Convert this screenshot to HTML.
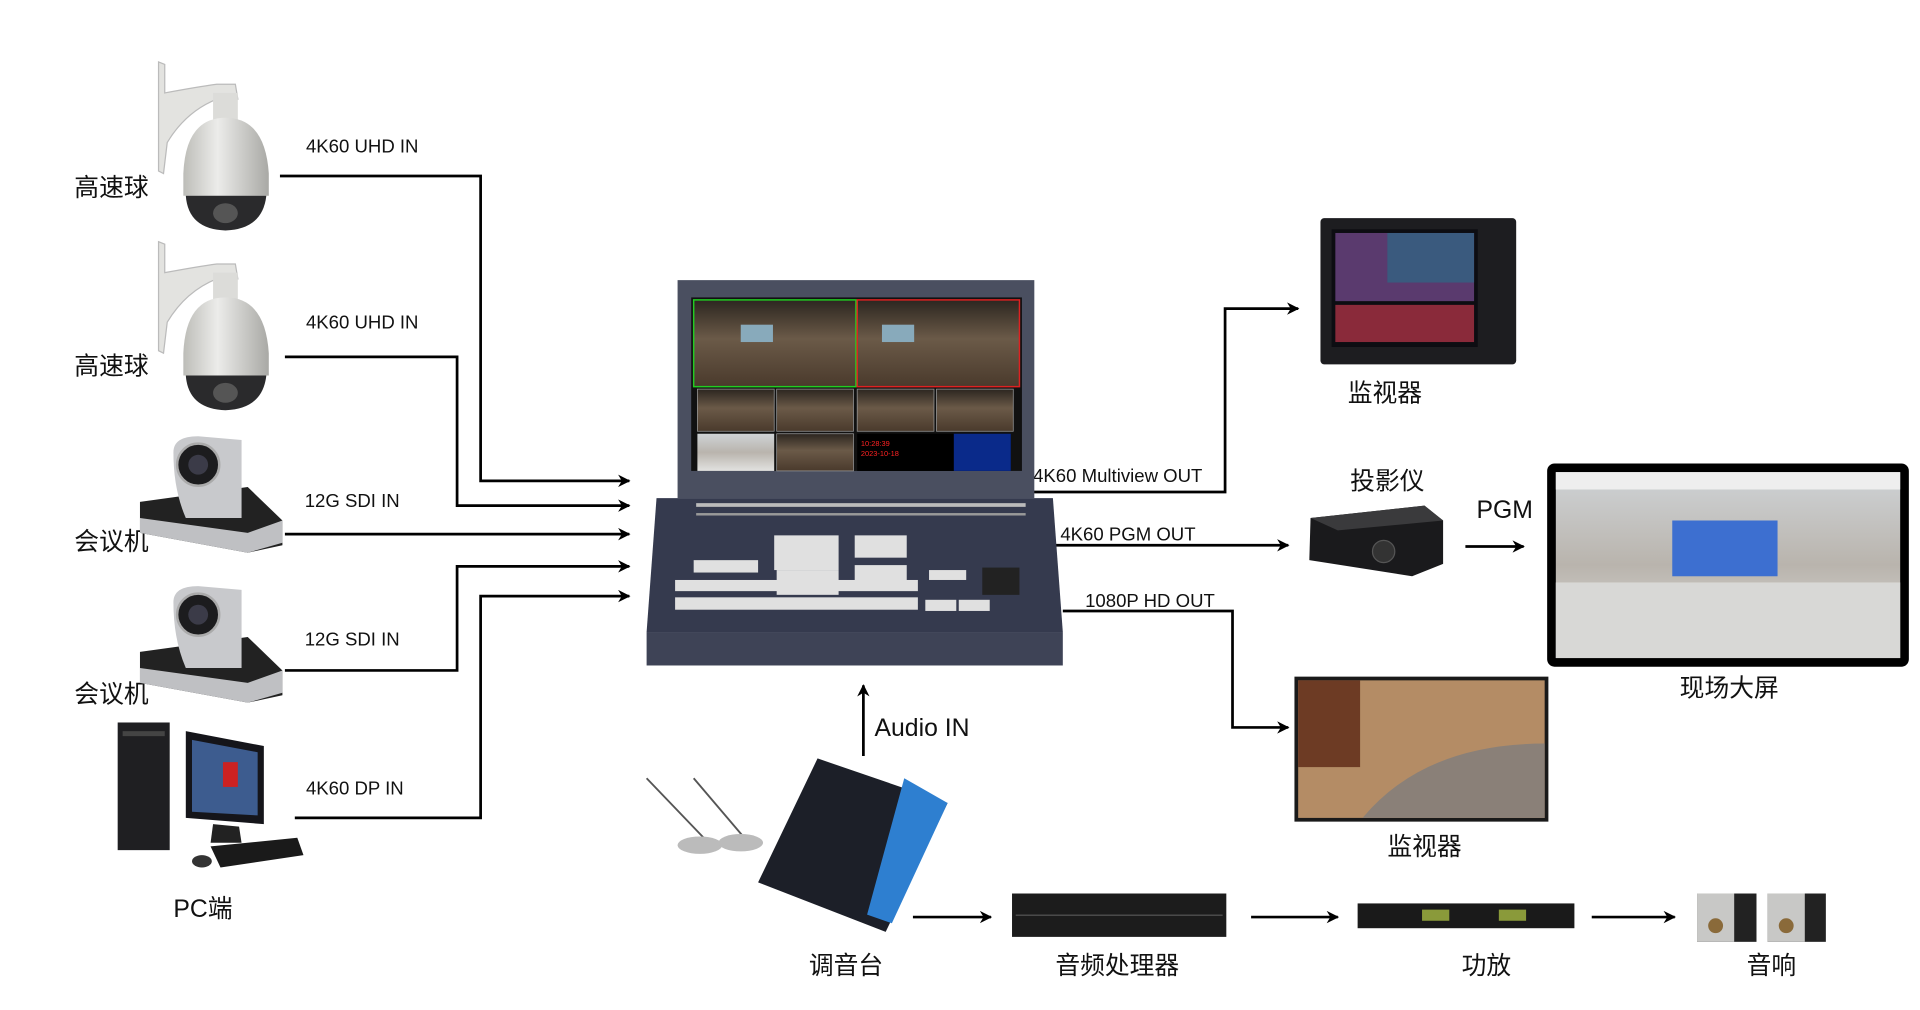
<!DOCTYPE html>
<html><head><meta charset="utf-8"><style>
html,body{margin:0;padding:0;background:#fff;width:1920px;height:1010px;overflow:hidden}
svg{display:block}
text{font-family:"Liberation Sans","Noto Sans CJK SC",sans-serif;fill:#111}
</style></head><body>
<svg width="1920" height="1010" viewBox="0 0 1550 815" preserveAspectRatio="none" xmlns="http://www.w3.org/2000/svg">
<defs>
<marker id="a" markerWidth="10" markerHeight="10" refX="9" refY="5" orient="auto" markerUnits="userSpaceOnUse"><path d="M0,0 L10,5 L0,10 L3,5 Z" fill="#000"/></marker>
<linearGradient id="dome" x1="0" x2="1"><stop offset="0" stop-color="#bdbdb8"/><stop offset=".4" stop-color="#ececea"/><stop offset="1" stop-color="#a9a9a5"/></linearGradient>
<linearGradient id="room" x1="0" y1="0" x2="0" y2="1"><stop offset="0" stop-color="#2c2620"/><stop offset=".45" stop-color="#6b5a48"/><stop offset="1" stop-color="#4a3a2c"/></linearGradient>
<linearGradient id="hall" x1="0" y1="0" x2="0" y2="1"><stop offset="0" stop-color="#cfd3d6"/><stop offset=".5" stop-color="#b9b4ad"/><stop offset="1" stop-color="#e2e2e0"/></linearGradient>
</defs>
<g fill="none" stroke="#000" stroke-width="2.2">
<polyline points="226,142 388,142 388,388 508,388" marker-end="url(#a)"/>
<polyline points="230,288 369,288 369,408 508,408" marker-end="url(#a)"/>
<polyline points="230,431 508,431" marker-end="url(#a)"/>
<polyline points="230,541 369,541 369,457 508,457" marker-end="url(#a)"/>
<polyline points="238,660 388,660 388,481 508,481" marker-end="url(#a)"/>
<polyline points="832,397 989,397 989,249 1048,249" marker-end="url(#a)"/>
<polyline points="843,440 1040,440" marker-end="url(#a)"/>
<polyline points="858,493 995,493 995,587 1040,587" marker-end="url(#a)"/>
<polyline points="1183,441 1230,441" marker-end="url(#a)"/>
<polyline points="697,610 697,553" marker-end="url(#a)"/>
<polyline points="737,740 800,740" marker-end="url(#a)"/>
<polyline points="1010,740 1080,740" marker-end="url(#a)"/>
<polyline points="1285,740 1352,740" marker-end="url(#a)"/>
</g>
<g font-size="15">
<text x="247" y="123">4K60 UHD IN</text>
<text x="247" y="265">4K60 UHD IN</text>
<text x="246" y="409">12G SDI IN</text>
<text x="246" y="521">12G SDI IN</text>
<text x="247" y="641">4K60 DP IN</text>
<text x="834" y="389">4K60 Multiview OUT</text>
<text x="856" y="436">4K60 PGM OUT</text>
<text x="876" y="490">1080P HD OUT</text>
</g>
<g font-size="20">
<text x="60" y="158">高速球</text>
<text x="60" y="302">高速球</text>
<text x="60" y="444">会议机</text>
<text x="60" y="567">会议机</text>
<text x="140" y="740">PC端</text>
<text x="706" y="594">Audio IN</text>
<text x="1192" y="418">PGM</text>
<text x="1088" y="324">监视器</text>
<text x="1090" y="395">投影仪</text>
<text x="1356" y="562">现场大屏</text>
<text x="1120" y="690">监视器</text>
<text x="653" y="786">调音台</text>
<text x="852" y="786">音频处理器</text>
<text x="1180" y="786">功放</text>
<text x="1410" y="786">音响</text>
</g>
<!-- dome cameras -->
<g id="dome1">
<path d="M128,50 L133,52 L133,75 Q160,70 175,68 L190,68 L192,80 L175,80 Q150,90 135,115 L132,140 L128,138 Z" fill="#e3e3e0" stroke="#bbb"/>
<rect x="172" y="75" width="20" height="22" fill="#dcdcd9"/>
<path d="M148,140 Q150,95 182,95 Q214,95 217,140 L217,158 L148,158 Z" fill="url(#dome)"/>
<path d="M150,158 L215,158 Q212,185 182,186 Q152,185 150,158 Z" fill="#2a2a2c"/>
<ellipse cx="182" cy="172" rx="10" ry="8" fill="#555"/>
</g>
<use href="#dome1" transform="translate(0,145)"/>
<!-- PTZ cameras -->
<g id="ptz">
<path d="M113,405 L200,393 L228,420 L228,440 L200,446 L113,430 Z" fill="#222"/>
<path d="M113,418 L200,430 L228,420 L228,438 L200,446 L113,430 Z" fill="#bfc0c3"/>
<path d="M140,365 Q140,352 160,352 L195,355 L195,418 L150,418 Q140,395 140,365 Z" fill="#c8c9cc"/>
<circle cx="160" cy="375" r="17" fill="#1c1c1e" stroke="#aaa" stroke-width="2"/>
<circle cx="160" cy="375" r="8" fill="#3b3b48"/>
</g>
<use href="#ptz" transform="translate(0,121)"/>
<!-- PC -->
<rect x="95" y="583" width="42" height="103" fill="#1f1f22"/>
<rect x="99" y="590" width="34" height="4" fill="#444"/>
<path d="M150,590 L213,602 L213,665 L150,660 Z" fill="#15151a"/>
<path d="M155,597 L208,607 L208,658 L155,655 Z" fill="#3d5c8f"/>
<rect x="180" y="615" width="12" height="20" fill="#c22"/>
<path d="M172,665 L193,667 L195,680 L170,680 Z" fill="#222"/>
<path d="M170,683 L240,676 L245,690 L178,700 Z" fill="#1a1a1a"/>
<ellipse cx="163" cy="695" rx="8" ry="5" fill="#333"/>
<!-- switcher -->
<path d="M547,226 L835,226 L835,402 L547,402 Z" fill="#4a4f60"/>
<rect x="558" y="240" width="267" height="140" fill="#111"/>
<rect x="560" y="242" width="131" height="70" fill="url(#room)" stroke="#2c2" stroke-width="1.2"/>
<rect x="692" y="242" width="131" height="70" fill="url(#room)" stroke="#d22" stroke-width="1.2"/>
<rect x="598" y="262" width="26" height="14" fill="#8ab"/>
<rect x="712" y="262" width="26" height="14" fill="#8ab"/>
<g fill="url(#room)" stroke="#999" stroke-width=".6">
<rect x="563" y="314" width="62" height="34"/><rect x="627" y="314" width="62" height="34"/>
<rect x="692" y="314" width="62" height="34"/><rect x="756" y="314" width="62" height="34"/>
<rect x="627" y="350" width="62" height="30"/>
</g>
<rect x="563" y="350" width="62" height="30" fill="url(#hall)"/>
<rect x="692" y="350" width="124" height="30" fill="#000"/>
<rect x="770" y="350" width="46" height="30" fill="#0a2a8a"/>
<text x="695" y="360" font-size="6" style="fill:#f22">10:28:39</text>
<text x="695" y="368" font-size="6" style="fill:#f22">2023-10-18</text>
<path d="M530,402 L850,402 L858,510 L522,510 Z" fill="#353a4e"/>
<rect x="562" y="406" width="266" height="3" fill="#bbb"/>
<rect x="562" y="414" width="266" height="2" fill="#999"/>
<rect x="522" y="510" width="336" height="27" fill="#3e4356"/>
<g fill="#e0e0e0">
<rect x="625" y="432" width="52" height="28"/><rect x="690" y="432" width="42" height="18"/>
<rect x="560" y="452" width="52" height="10"/><rect x="627" y="460" width="50" height="20"/>
<rect x="690" y="456" width="42" height="20"/><rect x="750" y="460" width="30" height="8"/>
<rect x="545" y="468" width="196" height="9"/><rect x="545" y="482" width="196" height="10"/>
<rect x="747" y="484" width="25" height="9"/><rect x="774" y="484" width="25" height="9"/>
</g>
<rect x="793" y="458" width="30" height="22" fill="#222"/>
<!-- top monitor -->
<rect x="1066" y="176" width="158" height="118" fill="#1d1d20" rx="3"/>
<rect x="1075" y="185" width="118" height="95" fill="#0d0d12"/>
<rect x="1078" y="188" width="112" height="55" fill="#5a3a6e"/>
<rect x="1120" y="188" width="70" height="40" fill="#3a5a7e"/>
<rect x="1078" y="246" width="112" height="30" fill="#8a2a3a"/>
<!-- projector -->
<path d="M1058,418 L1150,408 L1165,420 L1165,455 L1140,465 L1057,452 Z" fill="#1a1a1c"/>
<path d="M1058,418 L1150,408 L1165,420 L1080,428 Z" fill="#3a3a3c"/>
<circle cx="1117" cy="445" r="9" fill="#333" stroke="#555"/>
<!-- big screen -->
<rect x="1249" y="374" width="292" height="164" rx="6" fill="#000"/>
<rect x="1256" y="381" width="278" height="150" fill="url(#hall)"/>
<rect x="1350" y="420" width="85" height="45" fill="#3d6fd0"/>
<rect x="1256" y="470" width="278" height="61" fill="#d8d8d6"/>
<path d="M1256,381 L1534,381 L1534,395 L1256,395 Z" fill="#eee"/>
<!-- TV -->
<rect x="1045" y="546" width="205" height="117" fill="#1a1a1a"/>
<rect x="1048" y="549" width="199" height="111" fill="#b48c65"/>
<rect x="1048" y="549" width="50" height="70" fill="#6d3b24"/>
<path d="M1048,660 L1247,660 L1247,600 Q1150,600 1100,660 Z" fill="#8a8078"/>
<!-- mics -->
<path d="M522,628 L570,678" stroke="#555" stroke-width="1.5"/><path d="M560,628 L600,675" stroke="#555" stroke-width="1.5"/>
<ellipse cx="565" cy="682" rx="18" ry="7" fill="#bbb"/><ellipse cx="598" cy="680" rx="18" ry="7" fill="#bbb"/>
<!-- mixer -->
<path d="M660,612 L765,648 L715,752 L612,712 Z" fill="#1c1f28"/>
<path d="M730,628 L765,648 L720,745 L700,738 Z" fill="#2e7fd0"/>
<!-- processor -->
<rect x="817" y="721" width="173" height="35" fill="#1c1c1c"/>
<rect x="820" y="738" width="167" height="1" fill="#555"/>
<!-- amp -->
<rect x="1096" y="729" width="175" height="20" fill="#1a1a1a"/>
<rect x="1148" y="734" width="22" height="9" fill="#8a9a3a"/><rect x="1210" y="734" width="22" height="9" fill="#8a9a3a"/>
<!-- speakers -->
<rect x="1370" y="721" width="48" height="39" fill="#222"/><rect x="1370" y="721" width="30" height="39" fill="#c8c8c6"/>
<circle cx="1385" cy="747" r="6" fill="#8a6a3a"/>
<rect x="1427" y="721" width="47" height="39" fill="#222"/><rect x="1427" y="721" width="30" height="39" fill="#c8c8c6"/>
<circle cx="1442" cy="747" r="6" fill="#8a6a3a"/>
</svg>
</body></html>
